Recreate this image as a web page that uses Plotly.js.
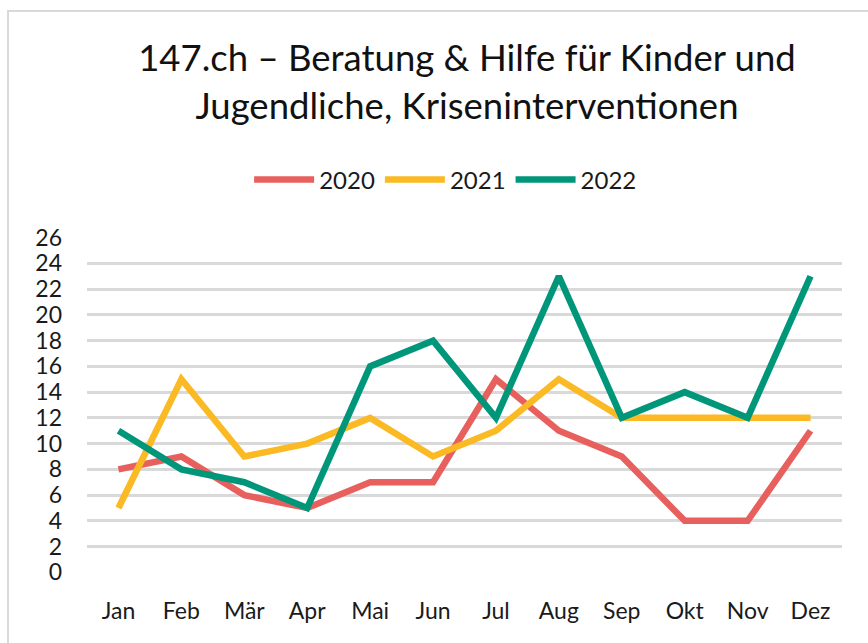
<!DOCTYPE html>
<html><head><meta charset="utf-8">
<script src="https://cdn.plot.ly/plotly-3.0.1.min.js"></script>
<style>
html,body{margin:0;padding:0;background:#fff;}
#frame{position:absolute;left:7px;top:10px;width:880px;height:660px;border:2px solid #d9d9d9;box-sizing:border-box;}
#chart{position:absolute;left:0;top:0;width:868px;height:643px;}
</style></head>
<body>
<div id="frame"></div>
<div id="chart"></div>
<script>
const months = ["Jan","Feb","Mär","Apr","Mai","Jun","Jul","Aug","Sep","Okt","Nov","Dez"];
const v2020 = [8,9,6,5,7,7,15,11,9,4,4,11];
const v2021 = [5,15,9,10,12,9,11,15,12,12,12,12];
const v2022 = [11,8,7,5,16,18,12,23,12,14,12,23];
const yTicks = [0,2,4,6,8,10,12,14,16,18,20,22,24,26];

const font = "Lato, 'Open Sans', sans-serif";
function tr(name, y, color){
  return {x: months, y: y, name: name, type: 'scatter', mode: 'lines',
    line: {color: color, width: 6.5, shape: 'linear'}, hoverinfo: 'x+y'};
}
const data = [tr('2020', v2020, '#E8605D'), tr('2021', v2021, '#FBB923'), tr('2022', v2022, '#00967A')];
const layout = {
  width: 868, height: 643,
  paper_bgcolor: 'rgba(0,0,0,0)', plot_bgcolor: 'rgba(0,0,0,0)',
  margin: {l: 87, r: 26, t: 237, b: 70},
  font: {family: font, color: '#1a1a1a'},
  title: {text: '147.ch – Beratung & Hilfe für Kinder und<br>Jugendliche, Kriseninterventionen',
    font: {size: 36.5, family: font, color: '#111'}, x: 0.538, xanchor: 'center', y: 0.889, yanchor: 'middle'},
  showlegend: true,
  legend: {orientation: 'h', x: 0.475, xanchor: 'center', y: 1.17, yanchor: 'middle',
    font: {size: 24, family: font, color: '#1a1a1a'}, itemwidth: 60, traceorder: 'normal'},
  xaxis: {type: 'category', range: [-0.5, 11.5], tickvals: months, ticktext: months, showgrid: false, zeroline: false, showline: false,
    ticks: '', tickfont: {size: 23, family: font, color: '#1a1a1a'}, ticklabelstandoff: 22, fixedrange: true},
  yaxis: {range: [-0.05, 26.05], tickvals: yTicks, ticktext: yTicks.map(String), showgrid: true, gridcolor: '#d9d9d9', gridwidth: 3,
    zeroline: false, showline: false, ticks: '', tickfont: {size: 23, family: font, color: '#1a1a1a'}, ticklabelstandoff: 24, fixedrange: true}
};
Plotly.newPlot('chart', data, layout, {displayModeBar: false, staticPlot: true});
</script>
</body></html>
